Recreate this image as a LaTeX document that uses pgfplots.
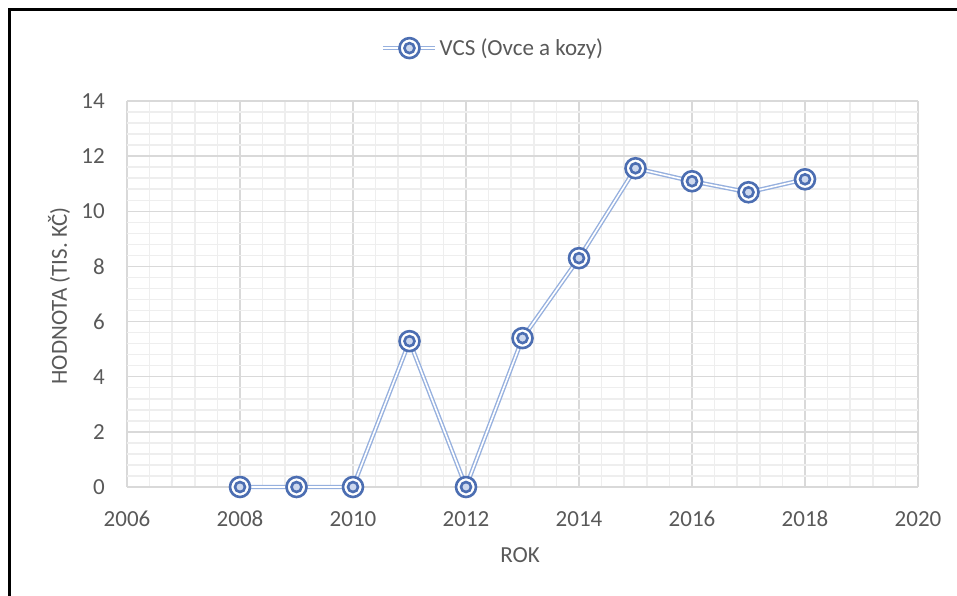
\documentclass[border=0pt]{standalone}
\usepackage{pgfplots}
\usepackage{pgfplotstable}
\pgfplotsset{compat=1.18}
\usepackage{fontspec}
\setmainfont{Carlito}

\definecolor{gridmaj}{RGB}{217,217,217}
\definecolor{gridmin}{RGB}{238,238,238}
\definecolor{txtgray}{RGB}{89,89,89}
\definecolor{lineblue}{RGB}{150,176,222}
\definecolor{ringblue}{RGB}{76,110,178}
\definecolor{dotfill}{RGB}{205,216,238}

% Excel "target" marker: ring + inner ring
\pgfdeclareplotmark{target}{%
  \pgfsetfillcolor{white}%
  \pgfpathcircle{\pgfpointorigin}{10pt}\pgfusepathqfillstroke
  \pgfsetfillcolor{dotfill}%
  \pgfpathcircle{\pgfpointorigin}{5pt}\pgfusepathqfillstroke
}

\pgfplotstableread{
rok hodnota
2008 0
2009 0
2010 0
2011 5.29
2012 0
2013 5.40
2014 8.30
2015 11.56
2016 11.09
2017 10.69
2018 11.16
}\vcs

\begin{document}
\begin{tikzpicture}
\useasboundingbox (0,0) rectangle (957pt,596pt);
\draw[black, line width=3pt] (9.5pt,0pt) -- (9.5pt,586pt) -- (957pt,586pt);
\begin{axis}[
    at={(127pt,109pt)}, anchor=south west,
    width=791pt, height=386pt, scale only axis,
    clip=false,
    xmin=2006, xmax=2020, ymin=0, ymax=14,
    xtick={2006,2008,...,2020}, ytick={0,2,...,14},
    minor x tick num=4, minor y tick num=4,
    grid=both,
    major grid style={gridmaj, line width=1.5pt},
    minor grid style={gridmin, line width=1.5pt},
    axis line style={draw=none},
    major tick length=0pt, minor tick length=0pt,
    tick label style={font=\fontsize{23}{27}\selectfont, text=txtgray},
    /pgf/number format/assume math mode=true,
    /pgf/number format/1000 sep={},
    yticklabel style={anchor=east, inner sep=0pt, xshift=-22pt},
    xticklabel style={anchor=north, inner sep=0pt, yshift=-24pt},
    xlabel={ROK}, ylabel={HODNOTA (TIS. KČ)},
    label style={font=\fontsize{23}{27}\selectfont, text=txtgray},
    xlabel style={at={(rel axis cs:0.497,-0.176)}, anchor=center},
    ylabel style={at={(rel axis cs:-0.091,0.495)}, anchor=center, yshift=-4pt},
    legend style={at={(0.463,1.137)}, anchor=center, draw=none, fill=none,
        font=\fontsize{23}{27}\selectfont, text=txtgray},
]

\addplot[draw=lineblue, line width=1.4pt, double=white, double distance=1.6pt,
    no marks, forget plot] table[x=rok, y=hodnota] {\vcs};

\addplot[only marks, mark=target, mark options={draw=ringblue, line width=2.6pt},
    legend image code/.code={
        \draw[lineblue, line width=1.4pt, double=white, double distance=1.6pt] (0pt,0pt) -- (52pt,0pt);
        \draw[ringblue, line width=2.6pt, fill=white] (26pt,0pt) circle (10pt);
        \draw[ringblue, line width=2.6pt, fill=dotfill] (26pt,0pt) circle (5pt);
    }] table[x=rok, y=hodnota] {\vcs};
\addlegendentry{VCS (Ovce a kozy)}

\end{axis}
\end{tikzpicture}
\end{document}
